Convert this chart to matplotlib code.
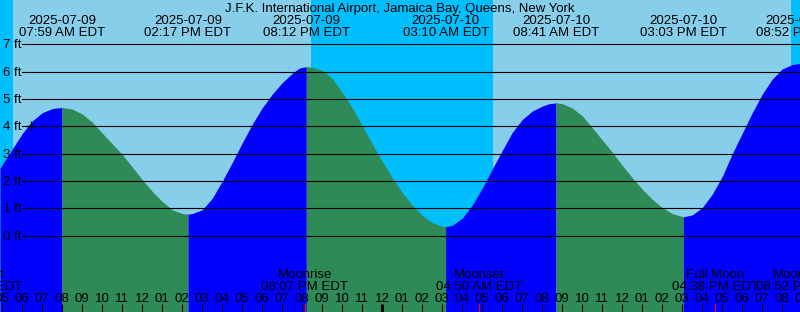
import numpy as np
import matplotlib
matplotlib.use("Agg")
import matplotlib.pyplot as plt
from matplotlib.transforms import blended_transform_factory

plt.rcParams['font.family'] = ['Liberation Sans', 'DejaVu Sans']

# water level (hours since 2025-07-09 00:00 EDT, feet)
hours = [4.885, 5.0, 5.5, 6.0, 6.5, 7.0, 7.5, 7.983,
         8.5, 9.0, 9.5, 10.0, 10.5, 11.0, 11.5, 12.0, 12.5, 13.0, 13.5, 14.0, 14.283,
         14.5, 15.0, 15.5, 16.0, 16.5, 17.0, 17.5, 18.0, 18.5, 19.0, 19.5, 19.85, 20.2,
         20.5, 21.0, 21.5, 22.0, 22.5, 23.0, 23.5, 24.0, 24.5, 25.0, 25.5, 26.0, 26.5,
         27.0, 27.167,
         27.5, 28.0, 28.5, 29.0, 29.5, 30.0, 30.5, 31.0, 31.5, 32.0, 32.3, 32.683,
         33.0, 33.5, 34.0, 34.5, 35.0, 35.5, 36.0, 36.5, 37.0, 37.5, 38.0, 38.5, 39.05,
         39.5, 40.0, 40.5, 41.0, 41.5, 42.0, 42.5, 43.0, 43.5, 44.0, 44.5, 44.867, 44.9]
level = [2.46, 2.60, 3.17, 3.74, 4.20, 4.50, 4.65, 4.69,
         4.63, 4.45, 4.15, 3.75, 3.36, 2.97, 2.51, 2.05, 1.62, 1.25, 0.95, 0.81, 0.79,
         0.81, 0.95, 1.37, 2.00, 2.68, 3.40, 4.08, 4.68, 5.18, 5.60, 5.94, 6.13, 6.18,
         6.16, 6.05, 5.75, 5.24, 4.68, 4.02, 3.35, 2.72, 2.11, 1.58, 1.12, 0.74, 0.48,
         0.34, 0.33,
         0.38, 0.64, 1.12, 1.74, 2.44, 3.12, 3.78, 4.25, 4.56, 4.74, 4.82, 4.86,
         4.83, 4.67, 4.38, 3.95, 3.50, 3.05, 2.57, 2.12, 1.70, 1.33, 1.03, 0.81, 0.69,
         0.76, 1.03, 1.52, 2.17, 3.00, 3.75, 4.50, 5.18, 5.73, 6.10, 6.26, 6.30, 6.30]

# highs and lows
tide_times = [7.983, 14.283, 20.2, 27.167, 32.683, 39.05, 44.867]
tide_dates = ["2025-07-09", "2025-07-09", "2025-07-09", "2025-07-10",
              "2025-07-10", "2025-07-10", "2025-07-10"]
tide_clock = ["07:59 AM EDT", "02:17 PM EDT", "08:12 PM EDT", "03:10 AM EDT",
              "08:41 AM EDT", "03:03 PM EDT", "08:52 PM EDT"]

# sun and moon
sunrise = [5.55, 29.55]
sunset = [20.45, 44.45]
moon_times = [3.85, 20.117, 28.833, 40.633, 44.867]
moon_names = ["Moonset", "Moonrise", "Moonset", "Full Moon", "Moonrise"]
moon_clock = ["03:51 AM EDT", "08:07 PM EDT", "04:50 AM EDT", "04:38 PM EDT", "08:52 PM EDT"]

now_time = 6.42
now_level = 4.0
ft_levels = [0, 1, 2, 3, 4, 5, 6, 7]
hour_ticks = list(range(4, 46))

W, H = 800, 312
x0, x1 = 4.885, 44.885
y0, y1 = -2.79, 8.62
FS = 9.5

fig = plt.figure(figsize=(W / 100, H / 100), dpi=100)
ax = fig.add_axes([0, 0, 1, 1])
ax.set_xlim(x0, x1)
ax.set_ylim(y0, y1)
ax.axis('off')
ax.add_patch(plt.Rectangle((0, 0), 1, 1, transform=ax.transAxes,
                           color='#87CEEB', zorder=0))

def py(p):
    # pixel row -> axes fraction
    return 1 - p / H

bt = blended_transform_factory(ax.transData, ax.transAxes)

# night
ax.axvspan(x0 - 1, sunrise[0], color='#00BFFF', lw=0, zorder=0.5)
ax.axvspan(sunset[0], sunrise[1], color='#00BFFF', lw=0, zorder=0.5)
ax.axvspan(sunset[1], x1 + 1, color='#00BFFF', lw=0, zorder=0.5)

# water, blue when rising, green when falling
t = np.array(hours)
h = np.array(level)
bounds = [t[0]] + tide_times + [t[-1]]
for a, b in zip(bounds[:-1], bounds[1:]):
    m = (t >= a - 1e-6) & (t <= b + 1e-6)
    if m.sum() < 2:
        continue
    col = '#0000FF' if h[m][-1] >= h[m][0] else '#2E8B57'
    ax.fill_between(t[m], h[m], y0 - 1, color=col, lw=0, antialiased=False, zorder=1)

# level lines and labels
for lv in ft_levels:
    ax.axhline(lv, xmin=22 / W, color='black', lw=0.8, zorder=2)
    ax.text(3 / W, lv - 4 / 27.35, f"{lv} ft",
            transform=blended_transform_factory(ax.transAxes, ax.transData),
            ha='left', va='baseline', fontsize=FS, zorder=4)

ax.plot([now_time], [now_level], marker='+', ms=7, mew=1, color='black', zorder=3)

# title and tide labels
ax.text(0.5, py(11.7), "J.F.K. International Airport, Jamaica Bay, Queens, New York",
        transform=ax.transAxes, ha='center', va='baseline', fontsize=FS, zorder=4)
for tt, d, c in zip(tide_times, tide_dates, tide_clock):
    ax.text(tt, py(24), d, transform=bt, ha='center', va='baseline', fontsize=FS, zorder=4)
    ax.text(tt, py(36), c, transform=bt, ha='center', va='baseline', fontsize=FS, zorder=4)

# hour ticks
for hr in hour_ticks:
    lw = 2.2 if hr % 24 == 0 else 0.8
    ax.plot([hr, hr], [py(304), 0], transform=bt, color='black', lw=lw, zorder=3,
            solid_capstyle='butt')
    ax.text(hr, py(301.7), f"{(hr - 1) % 12 + 1:02d}", transform=bt, ha='center',
            va='baseline', fontsize=FS, zorder=4)

# moon events
for mt, n, c in zip(moon_times, moon_names, moon_clock):
    ax.plot([mt, mt], [py(304), 0], transform=bt, color='red', lw=0.8, zorder=3,
            solid_capstyle='butt')
    ax.text(mt, py(277.7), n, transform=bt, ha='center', va='baseline', fontsize=FS, zorder=4)
    ax.text(mt, py(290), c, transform=bt, ha='center', va='baseline', fontsize=FS, zorder=4)

fig.savefig("out.png", dpi=100)
